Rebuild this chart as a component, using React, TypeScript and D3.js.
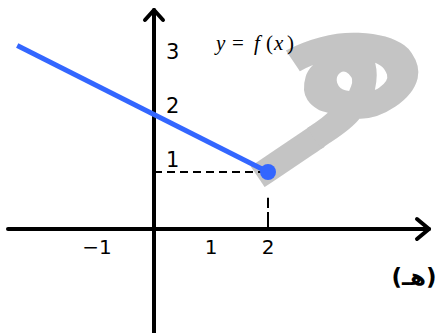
import React, { useEffect, useRef } from "react";
import * as d3 from "d3";

// function segment: y = -x/2 + 2, closed end at x = 2
const lineX = [-2.4, 2];
const lineY = [3.22, 1];

// tick labels on the axes
const xTickValues = [-1, 1, 2];
const xTickLabels = ["\u22121", "1", "2"];
const yTickValues = [1, 2, 3];
const yTickLabels = ["1", "2", "3"];

// guide point (dashed projections)
const guideX = 2;
const guideY = 1;

const App = () => {
  const ref = useRef<SVGSVGElement>(null);

  useEffect(() => {
    const svg = d3.select(ref.current);
    svg.selectAll("*").remove();

    const width = 438;
    const height = 333;

    // one unit = 57px, origin at (154, 229)
    const xScale = d3.scaleLinear().domain([0, 1]).range([154, 211]);
    const yScale = d3.scaleLinear().domain([0, 1]).range([229, 172]);

    const x0 = xScale(0);
    const y0 = yScale(0);

    // watermark behind everything
    svg
      .append("text")
      .attr("transform", `translate(352, 128) rotate(-34)`)
      .attr("text-anchor", "middle")
      .attr("font-family", "DejaVu Sans")
      .attr("font-weight", "bold")
      .attr("font-size", 200)
      .attr("fill", "#c4c4c4")
      .text("هـ");

    // axes
    const axisColor = "#000";
    svg
      .append("line")
      .attr("x1", 8)
      .attr("x2", width - 9)
      .attr("y1", y0)
      .attr("y2", y0)
      .attr("stroke", axisColor)
      .attr("stroke-width", 4)
      .attr("stroke-linecap", "round");
    svg
      .append("line")
      .attr("x1", x0)
      .attr("x2", x0)
      .attr("y1", 10)
      .attr("y2", height)
      .attr("stroke", axisColor)
      .attr("stroke-width", 4)
      .attr("stroke-linecap", "round");

    // arrow heads
    const arrow = d3.line();
    svg
      .append("path")
      .attr("d", arrow([[x0 - 9, 20], [x0, 10], [x0 + 9, 20]]))
      .attr("fill", "none")
      .attr("stroke", axisColor)
      .attr("stroke-width", 4)
      .attr("stroke-linecap", "round")
      .attr("stroke-linejoin", "round");
    svg
      .append("path")
      .attr("d", arrow([[width - 21, y0 - 10], [width - 9, y0], [width - 21, y0 + 10]]))
      .attr("fill", "none")
      .attr("stroke", axisColor)
      .attr("stroke-width", 4)
      .attr("stroke-linecap", "round")
      .attr("stroke-linejoin", "round");

    // dashed projections
    svg
      .append("line")
      .attr("x1", x0)
      .attr("x2", xScale(guideX))
      .attr("y1", yScale(guideY))
      .attr("y2", yScale(guideY))
      .attr("stroke", "#000")
      .attr("stroke-width", 2)
      .attr("stroke-dasharray", "8,5");
    svg
      .append("line")
      .attr("x1", xScale(guideX))
      .attr("x2", xScale(guideX))
      .attr("y1", y0)
      .attr("y2", yScale(guideY * 0.55))
      .attr("stroke", "#000")
      .attr("stroke-width", 2)
      .attr("stroke-dasharray", "17,4");

    // the segment
    const segment = d3
      .line<number>()
      .x((d) => xScale(d))
      .y((d, i) => yScale(lineY[i]));
    svg
      .append("path")
      .datum(lineX)
      .attr("d", segment)
      .attr("fill", "none")
      .attr("stroke", "#3366ff")
      .attr("stroke-width", 5);

    svg
      .append("circle")
      .attr("cx", xScale(lineX[1]))
      .attr("cy", yScale(lineY[1]))
      .attr("r", 8)
      .attr("fill", "#3366ff");

    // tick labels
    svg
      .selectAll(".x-label")
      .data(xTickValues)
      .enter()
      .append("text")
      .attr("class", "x-label")
      .attr("x", (d) => xScale(d))
      .attr("y", y0 + 25)
      .attr("text-anchor", "middle")
      .attr("font-family", "DejaVu Sans")
      .attr("font-size", 20)
      .text((d, i) => xTickLabels[i]);

    // labels sit a little above their unit marks, drifting as they go up
    svg
      .selectAll(".y-label")
      .data(yTickValues)
      .enter()
      .append("text")
      .attr("class", "y-label")
      .attr("x", x0 + 12)
      .attr("y", (d) => yScale(d) + 3 * (d - 2) - 2)
      .attr("font-family", "DejaVu Sans")
      .attr("font-size", 21)
      .text((d, i) => yTickLabels[i]);

    // function name
    const fn = svg
      .append("text")
      .attr("y", 50)
      .attr("font-family", "Liberation Serif")
      .attr("font-size", 21);
    fn.append("tspan").attr("x", 216).attr("font-style", "italic").text("y");
    fn.append("tspan").attr("x", 232).text("=");
    fn.append("tspan").attr("x", 254).attr("font-style", "italic").text("f");
    fn.append("tspan").attr("x", 266).text("(");
    fn.append("tspan").attr("x", 274).attr("font-style", "italic").text("x");
    fn.append("tspan").attr("x", 287).text(")");

    // part label
    svg
      .append("text")
      .attr("x", 414)
      .attr("y", 285)
      .attr("text-anchor", "middle")
      .attr("font-family", "DejaVu Sans")
      .attr("font-weight", "bold")
      .attr("font-size", 23)
      .text("(هـ)");
  }, []);

  return (
    <svg
      ref={ref}
      width={438}
      height={333}
      style={{ position: "absolute", left: 0, top: 0, background: "#fff" }}
    />
  );
};

export default App;
